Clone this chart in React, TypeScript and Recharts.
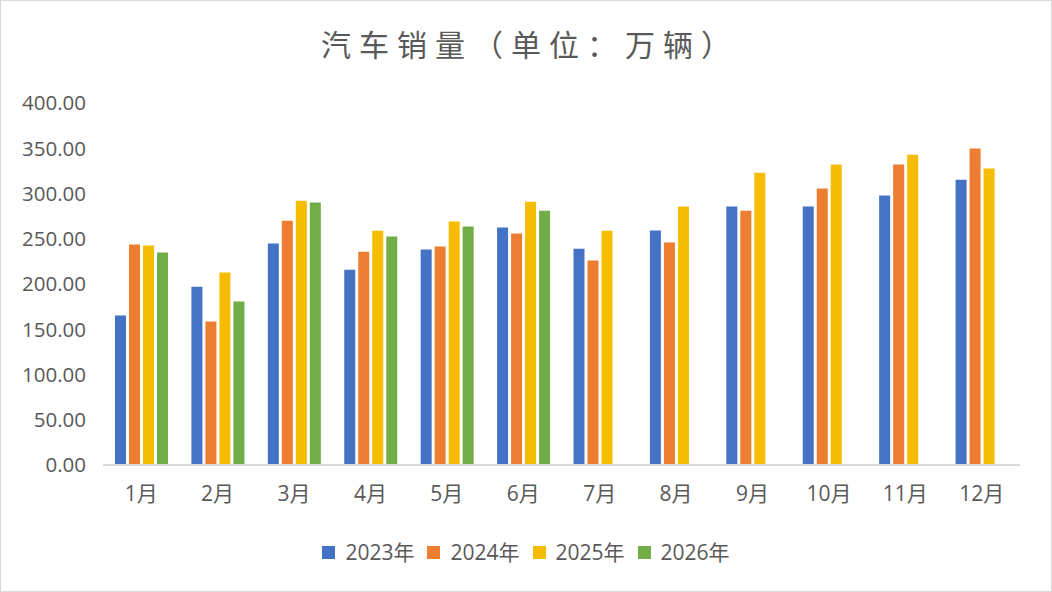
import { BarChart, Bar, XAxis, YAxis } from "recharts"

const months = ["1月", "2月", "3月", "4月", "5月", "6月", "7月", "8月", "9月", "10月", "11月", "12月"]

const sales2023 = [165.2, 197.0, 244.7, 215.8, 238.0, 262.3, 239.0, 259.0, 285.5, 285.5, 297.7, 315.3]
const sales2024 = [243.6, 158.6, 270.0, 235.6, 241.4, 255.7, 225.9, 245.8, 281.0, 305.4, 332.0, 349.6]
const sales2025 = [242.5, 212.7, 292.0, 258.8, 269.0, 291.0, 258.8, 285.5, 323.0, 332.0, 342.8, 327.5]
const sales2026 = [234.8, 180.7, 290.0, 252.4, 263.4, 281.0, null, null, null, null, null, null]

const yTicks = [0, 50, 100, 150, 200, 250, 300, 350, 400]

const SERIES = [
  { key: "y2023", name: "2023年", color: "#4472C4" },
  { key: "y2024", name: "2024年", color: "#ED7D31" },
  { key: "y2025", name: "2025年", color: "#F5BC00" },
  { key: "y2026", name: "2026年", color: "#70AD47" },
]

const data = months.map((m, i) => ({
  month: m,
  y2023: sales2023[i],
  y2024: sales2024[i],
  y2025: sales2025[i],
  y2026: sales2026[i],
}))

const FONT = "'Open Sans', 'Noto Sans CJK SC', sans-serif"
const TEXT = "#595959"

// legend drawn as plain html under the plot so it doesn't eat into the plot area
function LegendBox() {
  return (
    <div
      style={{
        position: "absolute",
        left: 0,
        top: 536,
        width: 1050,
        display: "flex",
        justifyContent: "center",
        fontFamily: FONT,
        fontSize: 21,
        color: TEXT,
        lineHeight: "30px",
      }}
    >
      {SERIES.map((s, i) => (
        <div key={s.key} style={{ display: "flex", alignItems: "center", marginRight: i < SERIES.length - 1 ? 13 : 0 }}>
          <span style={{ width: 13, height: 13, background: s.color, display: "inline-block", marginRight: 10 }} />
          <span>{s.name}</span>
        </div>
      ))}
    </div>
  )
}

export default function App() {
  return (
    <div
      style={{
        position: "absolute",
        left: 0,
        top: 0,
        width: 1052,
        height: 592,
        boxSizing: "border-box",
        border: "1px solid #d9d9d9",
        background: "#fff",
      }}
    >
      <div
        style={{
          position: "absolute",
          left: 4,
          top: 22,
          width: 1050,
          textAlign: "center",
          fontFamily: "'Noto Sans CJK SC', sans-serif",
          fontSize: 30,
          letterSpacing: 8,
          color: TEXT,
          lineHeight: "40px",
        }}
      >
        汽车销量（单位：万辆）
      </div>
      <BarChart
        width={1050}
        height={590}
        data={data}
        margin={{ top: 102, right: 31, bottom: 96, left: 12 }}
        barSize={11}
        barGap={3}
      >
        <XAxis
          dataKey="month"
          height={30}
          tickLine={false}
          tickSize={0}
          tickMargin={21}
          axisLine={{ stroke: "#d9d9d9", strokeWidth: 2 }}
          tick={{ fill: TEXT, fontSize: 21, fontFamily: FONT }}
        />
        <YAxis
          width={90}
          domain={[0, 400]}
          ticks={yTicks}
          tickFormatter={(v: number) => v.toFixed(2)}
          axisLine={false}
          tickLine={false}
          tickSize={0}
          tickMargin={17}
          tick={{ fill: TEXT, fontSize: 20.5, fontFamily: FONT }}
        />
        {SERIES.map(s => (
          <Bar key={s.key} dataKey={s.key} name={s.name} fill={s.color} isAnimationActive={false} />
        ))}
      </BarChart>
      <LegendBox />
    </div>
  )
}
